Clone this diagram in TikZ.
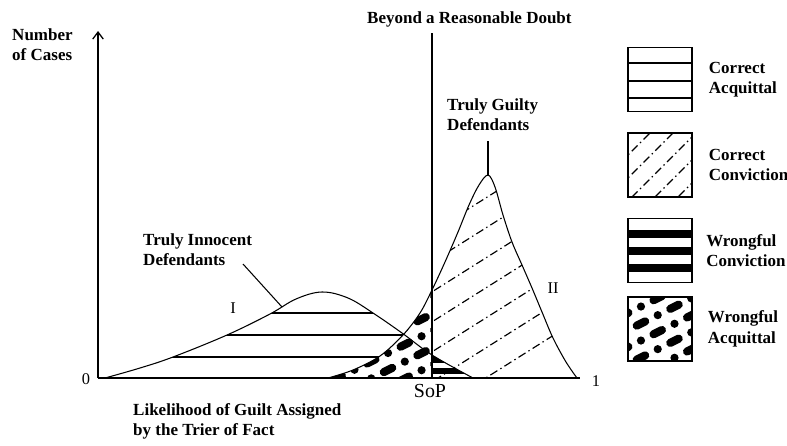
\documentclass[tikz,border=0pt]{standalone}
\usepackage{fontspec}
\setmainfont{Liberation Serif}
\usetikzlibrary{positioning,arrows.meta}

% the two distributions
\newcommand{\innocentcurve}{plot[smooth,tension=0.6] coordinates {(105,378) (140,368) (173,357) (227,335) (270,314) (296,299) (322,292) (348,298) (373,313) (402,333) (432,355) (473,378)}}
\newcommand{\guiltycurve}{plot[smooth,tension=0.55] coordinates {(328,378) (353,370) (380,356) (403,335) (420,313) (432,290) (445,262) (458,232) (469,205) (479,185) (488,175) (495,187) (503,215) (512,242) (522,265) (532,288) (542,312) (553,338) (566,362) (577,378)}}

\tikzset{
  lbl/.style={font=\bfseries\fontsize{14.5}{17.5}\selectfont, align=left, inner sep=0pt, anchor=north west},
  num/.style={font=\fontsize{14}{16}\selectfont, inner sep=0pt},
  curve/.style={line width=0.9pt},
  hatch/.style={line width=0.9pt},
  ccline/.style={line width=1pt, dash pattern=on 7pt off 3pt on 1.2pt off 3pt},
  waline/.style={line width=7pt, line cap=round, dash pattern=on 8pt off 12pt on 0pt off 12pt},
  legbox/.style={draw, line width=1.2pt, minimum size=1.92cm, inner sep=0pt},
}

\begin{document}
\begin{tikzpicture}[x=0.03cm,y=-0.03cm]
\useasboundingbox (0,0) rectangle (787,445);

% correct acquittal
\begin{scope}
  \clip \innocentcurve -- cycle;
  \foreach \y in {313,335,357} \draw[hatch] (100,\y) -- (480,\y);
\end{scope}
% wrongful acquittal
\begin{scope}
  \clip \guiltycurve -- cycle;
  \clip (300,200) rectangle (432,378);
  \fill[white] (300,200) rectangle (432,378);
  \foreach \c [count=\i] in {462,479,...,650} {
    \pgfmathsetmacro\ph{mod(\i,2)*16}
    \draw[waline, dash phase=\ph pt] (300,{\c-150}) -- (440,{\c-220});
  }
\end{scope}
% wrongful conviction
\begin{scope}
  \clip \innocentcurve -- cycle;
  \clip (432,300) rectangle (500,378);
  \fill (432,356) rectangle (500,363);
  \fill (432,368) rectangle (500,374);
\end{scope}
% correct conviction
\begin{scope}
  \clip \guiltycurve -- cycle;
  \clip (432,150) rectangle (600,378);
  \foreach \c in {504,534,...,686} \draw[ccline] (420,{\c-264.6}) -- (600,{\c-378});
\end{scope}

\draw[curve] \innocentcurve;
\draw[curve] \guiltycurve;

% axes and threshold
\coordinate (O) at (98,378);
\coordinate (ytop) at (98,31);
\coordinate (xend) at (580,378);
\coordinate (brdtop) at (432,33);
\coordinate (brdfoot) at (432,378);
\draw[line width=1.1pt, -{Straight Barb[length=6pt,width=9pt]}] (O) -- (ytop);
\draw[line width=1.1pt] (O) -- (xend);
\draw[line width=1pt] (brdtop) -- (brdfoot);

% labels
\node[lbl] (ncases) at (12,28) {Number\\of Cases};
\node[lbl] (brdlbl) at (367,11) {Beyond a Reasonable Doubt};
\node[lbl] (guilty) at (447,98) {Truly Guilty\\Defendants};
\node[lbl] (innocent) at (143,233) {Truly Innocent\\Defendants};
\node[lbl] (xlbl) at (133,403) {Likelihood of Guilt Assigned\\by the Trier of Fact};
\node[num] (zero) at (86,379) {0};
\node[num] (one) at (596,381) {1};
\node[num, font=\fontsize{17}{20}\selectfont] (sop) at (430,391) {SoP};
\node[num] (rI) at (233,308) {I};
\node[num] (rII) at (553,288) {II};

% leaders
\coordinate (innA) at (243,264);
\coordinate (innB) at (282,307);
\coordinate (gA) at (488,141);
\coordinate (gB) at (488,176);
\draw[curve] (innA) -- (innB);
\draw[curve] (gA) -- (gB);

% legend
\node[legbox] (boxCA) at (660,79.5) {};
\node[legbox] (boxCC) at (660,165) {};
\node[legbox] (boxWC) at (660,250.5) {};
\node[legbox] (boxWA) at (660,329) {};
\foreach \y in {63,81,98} \draw[hatch] (628,\y) -- (692,\y);
\begin{scope}
  \clip (boxCC.south west) rectangle (boxCC.north east);
  \foreach \c in {760,783,...,880} \draw[ccline] (620,{\c-620}) -- (700,{\c-700});
\end{scope}
\foreach \y in {230,247,264} \fill (628,\y) rectangle (692,\y+8);
\begin{scope}
  \clip (boxWA.south west) rectangle (boxWA.north east);
  \foreach \c [count=\i] in {610,627,...,750} {
    \pgfmathsetmacro\ph{mod(\i,2)*16}
    \draw[waline, dash phase=\ph pt] (620,{\c-310}) -- (700,{\c-350});
  }
\end{scope}
\node[lbl, right=0.48cm of boxCA] (laCA) {Correct\\Acquittal};
\node[lbl, right=0.48cm of boxCC] (laCC) {Correct\\Conviction};
\node[lbl, right=0.4cm of boxWC] (laWC) {Wrongful\\Conviction};
\node[lbl, right=0.45cm of boxWA] (laWA) {Wrongful\\Acquittal};
\end{tikzpicture}
\end{document}
